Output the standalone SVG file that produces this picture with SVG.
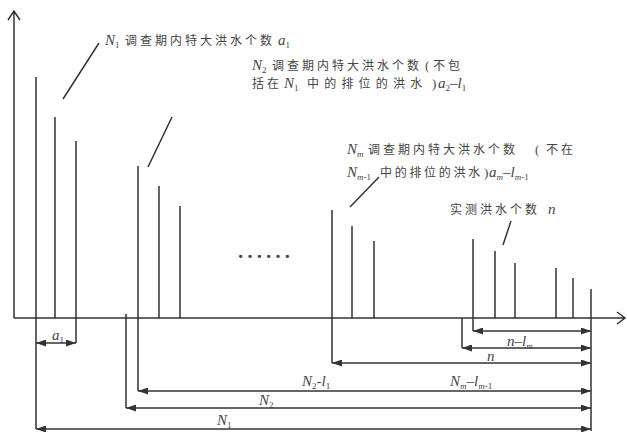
<svg xmlns="http://www.w3.org/2000/svg" width="627" height="432" viewBox="0 0 627 432">
<style>
.ln{stroke:#333;stroke-width:1.5;fill:none}
.ax{stroke:#333;stroke-width:1.5;fill:none}
.dim{stroke:#333;stroke-width:1.3;fill:none;marker-start:url(#ar);marker-end:url(#ar)}
.t{font-family:"Liberation Serif","Noto Sans CJK SC",serif;fill:#444}
.cj{font-family:"Noto Sans CJK SC",sans-serif;font-size:12px;letter-spacing:3px;fill:#444}
.it{font-family:"Liberation Serif",serif;font-style:italic;font-size:15px;fill:#444}
.rp{font-family:"Liberation Serif",serif;font-size:13px;fill:#444}
.sb{font-size:9px;font-style:normal}
.sbi{font-size:9px;font-style:italic}
</style>
<defs>
<marker id="ar" viewBox="0 0 10 7" refX="10" refY="3.5" markerWidth="10" markerHeight="7" markerUnits="userSpaceOnUse" orient="auto-start-reverse">
<path d="M0,0 L10,3.5 L0,7 z" fill="#333"/>
</marker>
</defs>
<g id="axes">
<path class="ax" d="M14,318 V11 M8,20 L14,11 L20,20"/>
<path class="ax" d="M14,318 H625 M617,312 L625,318 L617,324"/>
</g>
<g id="bars">
<path class="ln" d="M36,77 V429 M55,117 V318 M76,141 V343 M138,166 V391 M159,186 V318 M180,206 V318 M332,210 V363 M352,226 V318 M374,241 V318 M473,239 V331 M495,251 V318 M515,263 V318 M556,268 V318 M573,278 V318 M591,289 V431 M126,314 V408 M462,318 V348"/>
</g>
<g id="leaders">
<path class="ln" d="M63,99 L99,43 M148,167 L172,117 M350,207 L379,177 M503,245 L511,221"/>
</g>
<g id="connectors">
<line class="dim" x1="36" y1="343" x2="76" y2="343"/>
<line class="dim" x1="473" y1="331" x2="591" y2="331"/>
<line class="dim" x1="462" y1="348" x2="591" y2="348"/>
<line class="dim" x1="332" y1="363" x2="591" y2="363"/>
<line class="dim" x1="138" y1="391" x2="591" y2="391"/>
<line class="dim" x1="126" y1="408" x2="591" y2="408"/>
<line class="dim" x1="36" y1="429" x2="591" y2="429"/>
</g>
<g id="label-N1">
<text class="it" x="105" y="45">N<tspan class="sb" dy="3">1</tspan></text>
<text class="cj" x="125" y="45">调查期内特大洪水个数</text>
<text class="it" x="278" y="45">a<tspan class="sb" dy="3">1</tspan></text>
</g>
<g id="label-N2">
<text class="it" x="252" y="70">N<tspan class="sb" dy="3">2</tspan></text>
<text class="cj" x="272" y="70">调查期内特大洪水个数</text>
<text class="rp" x="425" y="70">(</text>
<text class="cj" x="433" y="70">不包</text>
<text class="cj" x="252" y="88">括在</text>
<text class="it" x="284" y="88">N<tspan class="sb" dy="3">1</tspan></text>
<text class="cj" x="307" y="88" style="letter-spacing:5.2px">中的排位的洪水</text>
<text class="rp" x="432" y="88">)</text>
<text class="it" x="438" y="88">a<tspan class="sb" dy="3">2</tspan><tspan dy="-3">–l</tspan><tspan class="sb" dy="3">1</tspan></text>
</g>
<g id="label-Nm">
<text class="it" x="347" y="154">N<tspan class="sbi" dy="3">m</tspan></text>
<text class="cj" x="368" y="154">调查期内特大洪水个数</text>
<text class="rp" x="535" y="154">(</text>
<text class="cj" x="546" y="154">不在</text>
<text class="it" x="347" y="177">N<tspan class="sbi" dy="3">m</tspan><tspan class="sb">-1</tspan></text>
<text class="cj" x="380" y="177" style="letter-spacing:2.7px">中的排位的洪水</text>
<text class="rp" x="484" y="177">)</text>
<text class="it" x="489" y="177">a<tspan class="sbi" dy="3">m</tspan><tspan dy="-3">–l</tspan><tspan class="sbi" dy="3">m</tspan><tspan class="sb">-1</tspan></text>
</g>
<g id="label-n">
<text class="cj" x="450" y="214">实测洪水个数</text>
<text class="it" x="548" y="214">n</text>
</g>
<g id="ellipsis">
<text class="t" x="236" y="257.5" font-size="28">……</text>
</g>
<g id="dim-labels">
<text class="it" x="52" y="340">a<tspan class="sb" dy="3">1</tspan></text>
<text class="it" x="507" y="346">n–l<tspan class="sbi" dy="3">m</tspan></text>
<text class="it" x="487" y="361">n</text>
<text class="it" x="302" y="386">N<tspan class="sb" dy="3">2</tspan><tspan dy="-3">-l</tspan><tspan class="sb" dy="3">1</tspan></text>
<text class="it" x="450" y="386">N<tspan class="sbi" dy="3">m</tspan><tspan dy="-3">–l</tspan><tspan class="sbi" dy="3">m</tspan><tspan class="sb">-1</tspan></text>
<text class="it" x="259" y="405">N<tspan class="sb" dy="3">2</tspan></text>
<text class="it" x="217" y="425">N<tspan class="sb" dy="3">1</tspan></text>
</g>
</svg>
